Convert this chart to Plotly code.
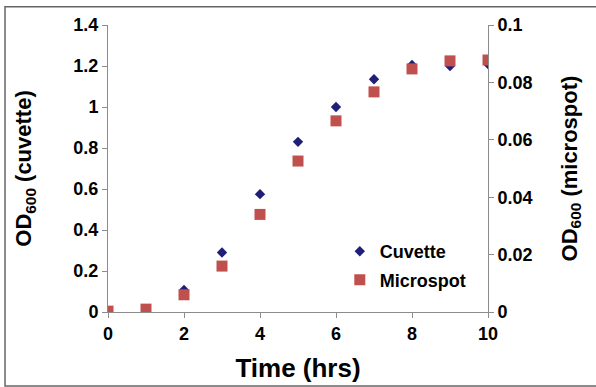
import plotly.graph_objects as go

time_hrs = [0, 1, 2, 3, 4, 5, 6, 7, 8, 9, 10]
cuvette = [0.003, 0.01, 0.107, 0.29, 0.575, 0.83, 1.0, 1.135, 1.205, 1.20, 1.21]
microspot = [0.0003, 0.001, 0.006, 0.016, 0.034, 0.0526, 0.0666, 0.0767, 0.0847, 0.0875, 0.0878]

left_ticks = [0, 0.2, 0.4, 0.6, 0.8, 1, 1.2, 1.4]
left_labels = ["0", "0.2", "0.4", "0.6", "0.8", "1", "1.2", "1.4"]
right_ticks = [0, 0.02, 0.04, 0.06, 0.08, 0.1]
right_labels = ["0", "0.02", "0.04", "0.06", "0.08", "0.1"]
x_ticks = [0, 2, 4, 6, 8, 10]
x_labels = ["0", "2", "4", "6", "8", "10"]

FONT = "Liberation Sans, Arial, sans-serif"
AX = "#8c8c8c"


def bold(labels):
    return ["<b>%s</b>" % s for s in labels]


fig = go.Figure()
fig.add_trace(go.Scatter(
    x=time_hrs, y=cuvette, mode="markers", name="<b>Cuvette</b>", legendgroup="a",
    marker=dict(symbol="diamond", size=8, color="#1f1f7a"), yaxis="y"))
fig.add_trace(go.Scatter(
    x=time_hrs, y=microspot, mode="markers", name="<b>Microspot</b>", legendgroup="b",
    marker=dict(symbol="square", size=11, color="#c0504d"), yaxis="y2"))

fig.update_layout(
    width=596, height=387,
    margin=dict(l=108, r=108, t=25, b=75),
    paper_bgcolor="white", plot_bgcolor="white",
    font=dict(family=FONT, color="black"),
    showlegend=True,
    legend=dict(x=0.61, y=0.275, xanchor="left", yanchor="top",
                bgcolor="rgba(0,0,0,0)", traceorder="grouped", tracegroupgap=2,
                font=dict(size=18, family=FONT), itemwidth=30),
    xaxis=dict(range=[0, 10], tickvals=x_ticks, ticktext=bold(x_labels),
               showgrid=False, zeroline=False, automargin=False,
               showline=True, linecolor=AX, linewidth=1, ticks="outside",
               tickcolor=AX, ticklen=5,
               tickfont=dict(size=18, family=FONT),
               title=dict(text="<b>Time (hrs)</b>", font=dict(size=26, family=FONT),
                          standoff=16)),
    yaxis=dict(range=[0, 1.4], tickvals=left_ticks, ticktext=bold(left_labels),
               showgrid=False, zeroline=False, showline=True, linecolor=AX,
               ticks="outside", tickcolor=AX, ticklen=5, automargin=False,
               tickfont=dict(size=18, family=FONT),
               title=dict(text="<b>OD<sub>600</sub> (cuvette)</b>",
                          font=dict(size=22, family=FONT), standoff=35)),
    yaxis2=dict(range=[0, 0.1], tickvals=right_ticks, ticktext=bold(right_labels),
                overlaying="y", side="right", showgrid=False, zeroline=False,
                showline=True, linecolor=AX, ticks="outside", tickcolor=AX, ticklen=5,
                automargin=False,
                tickfont=dict(size=18, family=FONT),
                title=dict(text="<b>OD<sub>600</sub> (microspot)</b>",
                           font=dict(size=22, family=FONT), standoff=29)),
    shapes=[dict(type="rect", xref="paper", yref="paper",
                 x0=-0.271, x1=1.29, y0=-0.258, y1=1.064,
                 line=dict(color="#666666", width=1.5), layer="below")],
)

fig.write_html("out.html", config={"displayModeBar": False},
               post_script="document.body.style.margin='0';document.body.style.padding='0';")
